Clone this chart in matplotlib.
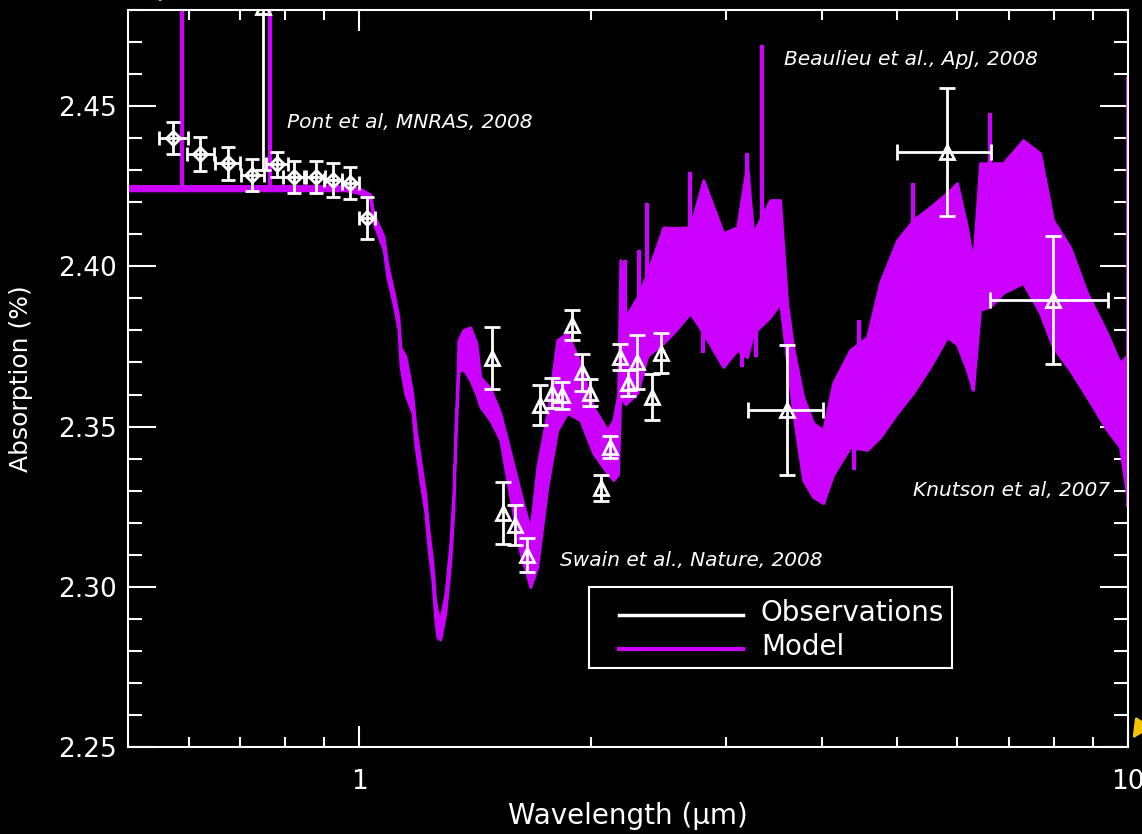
import numpy as np
import matplotlib.pyplot as plt
from matplotlib.ticker import FixedLocator, MultipleLocator, NullFormatter, FixedFormatter
from matplotlib.lines import Line2D
from matplotlib.patches import Rectangle

# model spectrum (wavelength, lower, upper)
model_wl = [0.500, 0.959, 1.003, 1.033, 1.043, 1.075, 1.087, 1.107, 1.124, 1.131,
            1.148, 1.172, 1.183, 1.200, 1.218, 1.229, 1.244, 1.255, 1.263, 1.274,
            1.294, 1.313, 1.325, 1.333, 1.341, 1.345, 1.365, 1.394, 1.420, 1.437,
            1.480, 1.525, 1.557, 1.620, 1.669, 1.704, 1.756, 1.809, 1.864, 1.938,
            2.015, 2.101, 2.140, 2.170, 2.185, 2.220, 2.300, 2.369, 2.486, 2.561,
            2.694, 2.802, 2.974, 3.101, 3.195, 3.253, 3.423, 3.527, 3.602, 3.667,
            3.779, 3.894, 4.012, 4.134, 4.350, 4.577, 4.759, 5.008, 5.253, 5.527,
            5.815, 5.992, 6.174, 6.286, 6.420, 6.615, 6.879, 7.303, 7.684, 7.989,
            8.406, 8.846, 9.391, 9.763, 9.990]
model_lo = [2.4237, 2.4237, 2.4228, 2.4208, 2.4135, 2.4053, 2.3968, 2.3884, 2.3803, 2.3687,
            2.3600, 2.3543, 2.3437, 2.3334, 2.3231, 2.3125, 2.3022, 2.2897, 2.2843, 2.2835,
            2.2919, 2.3075, 2.3231, 2.3437, 2.3593, 2.3670, 2.3680, 2.3645, 2.3600, 2.3561,
            2.3520, 2.3458, 2.3333, 2.3105, 2.2999, 2.3062, 2.3311, 2.3489, 2.3542, 2.3520,
            2.3417, 2.3355, 2.3333, 2.3350, 2.3590, 2.3570, 2.3605, 2.3720, 2.3761, 2.3792,
            2.3854, 2.3792, 2.3686, 2.3739, 2.3717, 2.3790, 2.3842, 2.3885, 2.3700, 2.3542,
            2.3333, 2.3280, 2.3261, 2.3350, 2.3436, 2.3427, 2.3467, 2.3542, 2.3605, 2.3686,
            2.3779, 2.3757, 2.3676, 2.3614, 2.3864, 2.3874, 2.3917, 2.3948, 2.3854, 2.3748,
            2.3676, 2.3592, 2.3489, 2.3436, 2.3271]
model_hi = [2.4251, 2.4251, 2.4242, 2.4224, 2.4165, 2.4093, 2.4008, 2.3924, 2.3843, 2.3747,
            2.3720, 2.3603, 2.3497, 2.3394, 2.3291, 2.3185, 2.3082, 2.2957, 2.2920, 2.2895,
            2.2979, 2.3135, 2.3291, 2.3497, 2.3653, 2.3770, 2.3801, 2.3810, 2.3760, 2.3654,
            2.3620, 2.3542, 2.3458, 2.3293, 2.3177, 2.3374, 2.3542, 2.3770, 2.3792, 2.3698,
            2.3561, 2.3489, 2.3520, 2.3600, 2.4020, 2.3842, 2.3904, 2.3979, 2.4122, 2.4120,
            2.4122, 2.4269, 2.4104, 2.4122, 2.4320, 2.4104, 2.4207, 2.4207, 2.3885, 2.3748,
            2.3592, 2.3511, 2.3489, 2.3636, 2.3739, 2.3779, 2.3950, 2.4082, 2.4144, 2.4185,
            2.4229, 2.4260, 2.4122, 2.4010, 2.4322, 2.4322, 2.4322, 2.4394, 2.4353, 2.4144,
            2.4060, 2.3917, 2.3792, 2.3698, 2.3725]

# narrow spikes of the model (wavelength, from, to)
spike_wl = [0.587, 0.766, 2.219, 2.310, 2.369, 2.694, 3.195, 3.342, 4.470, 5.253,
            6.615, 10.0, 2.802, 3.150, 3.280, 4.400, 5.380, 6.290, 8.200]
spike_lo = [2.4244, 2.4244, 2.3800, 2.3850, 2.3900, 2.4000, 2.4100, 2.3900, 2.3600, 2.4000,
            2.4200, 2.3250, 2.3850, 2.3800, 2.3900, 2.3500, 2.3700, 2.3800, 2.3800]
spike_hi = [2.4900, 2.4900, 2.4020, 2.4050, 2.4197, 2.4294, 2.4353, 2.4690, 2.3832, 2.4260,
            2.4478, 2.4590, 2.3729, 2.3686, 2.3717, 2.3364, 2.3645, 2.3614, 2.4100]

# Pont et al. 2008 (HST/STIS)
pont_wl = [0.573, 0.621, 0.674, 0.726, 0.782, 0.821, 0.877, 0.925, 0.973, 1.024]
pont_abs = [2.4400, 2.4350, 2.4322, 2.4285, 2.4318, 2.4278, 2.4278, 2.4269, 2.4260, 2.4151]
pont_err = [0.0050, 0.0053, 0.0052, 0.0051, 0.0040, 0.0050, 0.0050, 0.0053, 0.0050, 0.0066]
pont_wlerr = [0.025, 0.025, 0.025, 0.025, 0.025, 0.025, 0.025, 0.025, 0.025, 0.025]

# off-scale point at the top
top_wl = [0.750]
top_abs = [2.481]
top_err = [0.051]

# Swain et al. 2008 (NICMOS)
swain_wl = [1.489, 1.539, 1.596, 1.654, 1.719, 1.782, 1.837, 1.892, 1.950, 1.997,
            2.064, 2.121, 2.185, 2.238, 2.299, 2.404, 2.470]
swain_abs = [2.3714, 2.3230, 2.3193, 2.3099, 2.3567, 2.3605, 2.3598, 2.3817, 2.3670, 2.3605,
             2.3308, 2.3436, 2.3717, 2.3636, 2.3701, 2.3592, 2.3729]
swain_err = [0.0098, 0.0098, 0.0062, 0.0052, 0.0062, 0.0047, 0.0042, 0.0048, 0.0058, 0.0042,
             0.0040, 0.0034, 0.0040, 0.0040, 0.0085, 0.0073, 0.0062]

# Spitzer photometry (Beaulieu et al. 2008, Knutson et al. 2007)
irac_wl = [3.602, 5.815, 7.989]
irac_abs = [2.3551, 2.4356, 2.3895]
irac_err = [0.0203, 0.0200, 0.0200]
irac_wl_lo = [3.205, 5.008, 6.615]
irac_wl_hi = [4.012, 6.635, 9.419]

magenta = '#cc00ff'
white = 'white'
W, H = 1142, 834

fig = plt.figure(figsize=(W / 100, H / 100), dpi=100, facecolor='black')
ax = fig.add_axes([128 / W, 87 / H, 1000 / W, 737 / H], facecolor='black')
ax.set_xscale('log')

ax.fill_between(model_wl, model_lo, model_hi, color=magenta, lw=2, zorder=2)
ax.vlines(spike_wl, spike_lo, spike_hi, color=magenta, lw=3, zorder=2)

eb = dict(ecolor=white, elinewidth=2, capthick=2, mec=white, mfc='none', mew=2, zorder=4)
ax.errorbar(pont_wl, pont_abs, yerr=pont_err, xerr=pont_wlerr, fmt='D', ms=7, capsize=5, **eb)
ax.errorbar(top_wl, top_abs, yerr=top_err, fmt='^', ms=10, capsize=6, **eb)
ax.errorbar(swain_wl, swain_abs, yerr=swain_err, fmt='^', ms=10, capsize=6, **eb)
xerr = [np.array(irac_wl) - np.array(irac_wl_lo), np.array(irac_wl_hi) - np.array(irac_wl)]
ax.errorbar(irac_wl, irac_abs, yerr=irac_err, xerr=xerr, fmt='^', ms=10, capsize=6, **eb)

ax.set_xlim(0.5, 10)
ax.set_ylim(2.25, 2.48)

# axes / ticks
for s in ax.spines.values():
    s.set_color(white)
    s.set_linewidth(1.5)
ax.xaxis.set_major_locator(FixedLocator([1, 10]))
ax.xaxis.set_major_formatter(FixedFormatter(['1', '10']))
ax.xaxis.set_minor_locator(FixedLocator([0.6, 0.7, 0.8, 0.9, 2, 3, 4, 5, 6, 7, 8, 9]))
ax.xaxis.set_minor_formatter(NullFormatter())
ax.yaxis.set_major_locator(MultipleLocator(0.05))
ax.yaxis.set_minor_locator(MultipleLocator(0.01))
ax.yaxis.set_major_formatter(plt.FormatStrFormatter('%.2f'))
ax.tick_params(which='both', direction='in', top=True, right=True, color=white,
               labelcolor=white, width=1.5, labelsize=19)
ax.tick_params(axis='x', which='major', length=15, pad=16)
ax.tick_params(axis='x', which='minor', length=7)
ax.tick_params(axis='y', which='major', length=20, pad=8)
ax.tick_params(axis='y', which='minor', length=10)

ax.set_xlabel('Wavelength (μm)', color=white, fontsize=20, labelpad=5)
ax.set_ylabel('Absorption (%)', color=white, fontsize=18, labelpad=18)

# references
tfont = dict(color=white, fontsize=14.5, style='italic')
ax.text(0.806, 2.4450, 'Pont et al, MNRAS, 2008', va='center', ha='left', **tfont)
ax.text(3.570, 2.4644, 'Beaulieu et al., ApJ, 2008', va='center', ha='left', **tfont)
ax.text(1.825, 2.3083, 'Swain et al., Nature, 2008', va='center', ha='left', **tfont)
ax.text(9.476, 2.3299, 'Knutson et al, 2007', va='center', ha='right', **tfont)

# legend box (drawn in figure pixels)
fig.add_artist(Rectangle((589 / W, 1 - 668 / H), 363 / W, 81 / H, transform=fig.transFigure,
                         facecolor='black', edgecolor=white, lw=1.5, zorder=5))
fig.add_artist(Line2D([619 / W, 743 / W], [1 - 615 / H] * 2, color=white, lw=2.5, zorder=6))
fig.add_artist(Line2D([619 / W, 743 / W], [1 - 649 / H] * 2, color=magenta, lw=3, zorder=6))
fig.text(761 / W, 1 - 613 / H, 'Observations', color=white, fontsize=20, va='center', zorder=6)
fig.text(761 / W, 1 - 647 / H, 'Model', color=white, fontsize=20, va='center', zorder=6)

# yellow arrows from outside the plot
arrow = dict(arrowstyle='-|>', color='#f5c400', lw=2, mutation_scale=28)
ax.annotate('', xy=(1131, 93), xycoords='figure pixels', xytext=(1175, 160),
            textcoords='figure pixels', arrowprops=arrow, annotation_clip=False)
ax.annotate('', xy=(156, 830), xycoords='figure pixels', xytext=(200, 880),
            textcoords='figure pixels', arrowprops=arrow, annotation_clip=False)

plt.savefig('out.png', dpi=100, facecolor='black')
